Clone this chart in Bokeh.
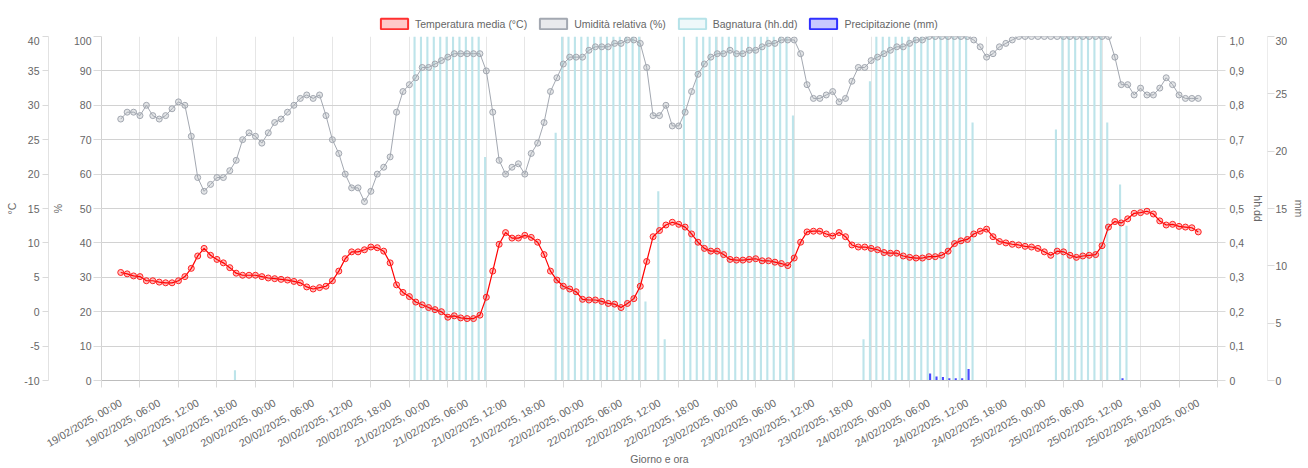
import math
from datetime import datetime, timedelta

from bokeh.plotting import figure
from bokeh.layouts import column
from bokeh.models import (Range1d, LinearAxis, FixedTicker, DatetimeTickFormatter,
                          CustomJSTickFormatter, ColumnDataSource, Legend, LegendItem)
from bokeh.transform import dodge
from bokeh.embed import file_html
from bokeh.resources import INLINE

# ---------------- data (hourly, from 19/02/2025 00:00) ----------------
inizio = datetime(2025, 2, 19, 0, 0)

temperatura = [
    5.7, 5.5, 5.2, 5.1, 4.5, 4.5, 4.3, 4.2, 4.2, 4.5, 5.1, 6.3, 8.1, 9.2, 8.2, 7.6, 7.1, 6.4, 5.6, 5.3, 5.3, 5.3, 5.1, 4.9,
    4.8, 4.7, 4.6, 4.4, 4.2, 3.6, 3.3, 3.5, 3.7, 4.5, 5.9, 7.7, 8.7, 8.7, 9.0, 9.4, 9.3, 8.8, 7.1, 3.9, 2.8, 2.2, 1.4, 1.0,
    0.6, 0.3, 0.0, -0.8, -0.6, -0.9, -1.0, -1.0, -0.5, 2.1, 5.9, 9.8, 11.5, 10.7, 10.7, 11.1, 10.8, 10.1, 8.3, 5.9, 4.6, 3.7, 3.3, 2.9,
    1.8, 1.7, 1.7, 1.5, 1.2, 1.1, 0.6, 1.2, 1.9, 3.7, 7.3, 10.9, 11.8, 12.6, 13.0, 12.7, 12.3, 11.3, 10.1, 9.2, 8.8, 8.8, 8.3, 7.6,
    7.5, 7.5, 7.6, 7.7, 7.4, 7.4, 7.2, 7.0, 6.7, 7.8, 10.1, 11.6, 11.7, 11.7, 11.3, 11.0, 11.5, 10.9, 9.7, 9.4, 9.4, 9.2, 9.0, 8.6,
    8.5, 8.5, 8.1, 7.9, 7.8, 7.8, 8.0, 8.0, 8.2, 8.8, 9.9, 10.3, 10.5, 11.3, 11.7, 12.0, 10.9, 10.2, 10.0, 9.8, 9.7, 9.5, 9.4, 9.2,
    8.7, 8.2, 8.8, 8.7, 8.2, 7.9, 8.1, 8.2, 8.3, 9.6, 12.3, 13.1, 12.9, 13.5, 14.3, 14.4, 14.6, 14.2, 13.2, 12.6, 12.7, 12.4, 12.3, 12.2,
    11.6,
]

umidita = [
    76, 78, 78, 77, 80, 77, 76, 77, 79, 81, 80, 71, 59, 55, 57, 59, 59, 61, 64, 70, 72, 71, 69, 72,
    75, 76, 78, 80, 82, 83, 82, 83, 77, 70, 66, 60, 56, 56, 52, 55, 60, 62, 65, 78, 84, 86, 88, 91,
    91, 92, 93, 94, 95, 95, 95, 95, 95, 90, 78, 64, 60, 62, 63, 60, 66, 69, 75, 84, 88, 92, 94, 94,
    94, 96, 97, 97, 97, 98, 98, 99, 99, 98, 91, 77, 77, 80, 74, 74, 78, 84, 89, 92, 94, 95, 95, 96,
    95, 95, 96, 96, 97, 98, 98, 99, 99, 99, 95, 86, 82, 82, 83, 84, 81, 82, 87, 91, 91, 93, 94, 95,
    96, 97, 97, 98, 99, 99, 100, 100, 100, 100, 100, 100, 100, 99, 97, 94, 95, 97, 98, 99, 100, 100, 100, 100,
    100, 100, 100, 100, 100, 100, 100, 100, 100, 100, 100, 94, 86, 86, 83, 85, 83, 83, 85, 88, 86, 83, 82, 82,
    82,
]

bagnatura = [
    0, 0, 0, 0, 0, 0, 0, 0, 0, 0, 0, 0, 0, 0, 0, 0, 0, 0, 0.03, 0, 0, 0, 0, 0,
    0, 0, 0, 0, 0, 0, 0, 0, 0, 0, 0, 0, 0, 0, 0, 0, 0, 0, 0, 0, 0, 0, 1, 1,
    1, 1, 1, 1, 1, 1, 1, 1, 1, 0.65, 0, 0, 0, 0, 0, 0, 0, 0, 0, 0, 0.72, 1, 1, 1,
    1, 1, 1, 1, 1, 1, 1, 1, 1, 1, 0.23, 0, 0.55, 0.12, 0, 0, 1, 0.50, 1, 1, 1, 1, 1, 1,
    1, 1, 1, 1, 1, 1, 1, 1, 1, 0.77, 0, 0, 0, 0, 0, 0, 0, 0, 0, 0, 0.12, 0.87, 1, 1,
    1, 1, 1, 1, 1, 1, 1, 1, 1, 1, 1, 1, 1, 0.75, 0, 0, 0, 0, 0, 0, 0, 0, 0, 0,
    0, 0, 0.73, 1, 1, 1, 1, 1, 1, 1, 0.75, 0, 0.57, 0.45, 0, 0, 0, 0, 0, 0, 0, 0, 0, 0,
    0,
]

precipitazione = [
    0, 0, 0, 0, 0, 0, 0, 0, 0, 0, 0, 0, 0, 0, 0, 0, 0, 0, 0, 0, 0, 0, 0, 0,
    0, 0, 0, 0, 0, 0, 0, 0, 0, 0, 0, 0, 0, 0, 0, 0, 0, 0, 0, 0, 0, 0, 0, 0,
    0, 0, 0, 0, 0, 0, 0, 0, 0, 0, 0, 0, 0, 0, 0, 0, 0, 0, 0, 0, 0, 0, 0, 0,
    0, 0, 0, 0, 0, 0, 0, 0, 0, 0, 0, 0, 0, 0, 0, 0, 0, 0, 0, 0, 0, 0, 0, 0,
    0, 0, 0, 0, 0, 0, 0, 0, 0, 0, 0, 0, 0, 0, 0, 0, 0, 0, 0, 0, 0, 0, 0, 0,
    0, 0, 0, 0, 0, 0, 0.6, 0.35, 0.3, 0.2, 0.2, 0.2, 1.0, 0, 0, 0, 0, 0, 0, 0, 0, 0, 0, 0,
    0, 0, 0, 0, 0, 0, 0, 0, 0, 0, 0, 0, 0.2, 0, 0, 0, 0, 0, 0, 0, 0, 0, 0, 0,
    0,
]

ticks_pct = list(range(0, 101, 10))
ticks_temp = list(range(-10, 41, 5))
ticks_wet = [round(0.1 * k, 1) for k in range(11)]
ticks_mm = list(range(0, 31, 5))

# ---------------- helpers ----------------
EPOCH = datetime(1970, 1, 1)
HOUR = 3600000.0


def ms(d):
    return (d - EPOCH).total_seconds() * 1000.0


ore = [inizio + timedelta(hours=i) for i in range(len(temperatura))]
label_ticks = [ms(inizio + timedelta(hours=6 * k)) for k in range(29)]
grid_ticks = [ms(inizio + timedelta(hours=6 * k - 3)) for k in range(30)]

src = ColumnDataSource(dict(t=ore, temp=temperatura, hum=umidita, wet=bagnatura, mm=precipitazione))
iw = [i for i, v in enumerate(bagnatura) if v > 0]
src_w = ColumnDataSource(dict(t=[ore[i] for i in iw], v=[bagnatura[i] for i in iw]))
ip = [i for i, v in enumerate(precipitazione) if v > 0]
src_p = ColumnDataSource(dict(t=[ore[i] for i in ip], v=[precipitazione[i] for i in ip]))

FONT = "Liberation Sans"
FS = "10.5px"
GREY = "#666666"

x_range = Range1d(inizio - timedelta(hours=3), inizio + timedelta(hours=171))

p = figure(width=1308, height=432, x_axis_type="datetime",
           x_range=x_range, y_range=Range1d(0, 100),
           output_backend="svg", toolbar_location=None,
           min_border_left=101, min_border_right=84, min_border_top=0, min_border_bottom=87)
p.extra_y_ranges = {"temp": Range1d(-10, 40), "wet": Range1d(0, 1), "mm": Range1d(0, 30)}
p.outline_line_color = None
p.background_fill_color = "white"
p.border_fill_color = "white"

# grids
p.xgrid.ticker = FixedTicker(ticks=grid_ticks)
p.xgrid.grid_line_color = "#e6e6e6"
p.ygrid.ticker = FixedTicker(ticks=ticks_pct)
p.ygrid.grid_line_color = "#d2d2d2"


def style_axis(ax):
    ax.major_label_text_font = FONT
    ax.major_label_text_font_size = FS
    ax.major_label_text_color = GREY
    ax.axis_label_text_font = FONT
    ax.axis_label_text_font_size = FS
    ax.axis_label_text_font_style = "normal"
    ax.axis_label_text_color = GREY
    ax.major_tick_in = 0
    ax.minor_tick_in = 0
    ax.minor_tick_out = 0
    ax.major_tick_line_color = "#dadada"


# x axis
xa = p.xaxis[0]
style_axis(xa)
fmt = "%d/%m/%Y, %H:%M"
xa.ticker = FixedTicker(ticks=label_ticks, minor_ticks=grid_ticks)
xa.formatter = DatetimeTickFormatter(milliseconds=fmt, seconds=fmt, minsec=fmt, minutes=fmt,
                                     hourmin=fmt, hours=fmt, days=fmt, months=fmt, years=fmt,
                                     strip_leading_zeros=False)
xa.major_tick_out = 0
xa.minor_tick_out = 7
xa.minor_tick_line_color = "#dadada"
xa.major_label_orientation = math.radians(30)
xa.major_label_standoff = 14
xa.axis_line_color = "#bdbdbd"
xa.axis_label = "Giorno e ora"
xa.axis_label_standoff = -4

# % axis (inner left)
ya = p.yaxis[0]
style_axis(ya)
ya.ticker = FixedTicker(ticks=ticks_pct)
ya.formatter = CustomJSTickFormatter(code="return tick.toFixed(0);")
ya.axis_label = "%"
ya.major_tick_out = 8
ya.major_label_standoff = 2
ya.axis_label_standoff = 7
ya.axis_line_color = "#d2d2d2"

# °C axis (outer left)
at = LinearAxis(y_range_name="temp", ticker=FixedTicker(ticks=ticks_temp), axis_label="°C",
                formatter=CustomJSTickFormatter(code="return tick.toFixed(0);"))
style_axis(at)
at.major_tick_out = 6
at.major_label_standoff = 3
at.axis_label_standoff = 3
at.axis_line_color = "#e2e2e2"
p.add_layout(at, "left")

# hh.dd axis (inner right)
aw = LinearAxis(y_range_name="wet", ticker=FixedTicker(ticks=ticks_wet), axis_label="hh.dd",
                formatter=CustomJSTickFormatter(code="return tick == 0 ? '0' : tick.toFixed(1).replace('.', ',');"))
style_axis(aw)
aw.major_tick_out = 8
aw.major_label_standoff = 4
aw.axis_label_standoff = 5
aw.axis_line_color = "#d8d8d8"
p.add_layout(aw, "right")

# mm axis (outer right)
am = LinearAxis(y_range_name="mm", ticker=FixedTicker(ticks=ticks_mm), axis_label="mm",
                formatter=CustomJSTickFormatter(code="return tick.toFixed(0);"))
style_axis(am)
am.major_tick_out = 7
am.major_label_standoff = 1
am.axis_label_standoff = 3
am.axis_line_color = "#ececec"
p.add_layout(am, "right")

# ---------------- glyphs ----------------
BAR_W = 0.33 * HOUR
p.vbar(x=dodge("t", -0.19 * HOUR, range=p.x_range), top="v", bottom=0, width=BAR_W,
       source=src_w, y_range_name="wet", fill_color="#bde4ea", line_color=None)
p.vbar(x=dodge("t", 0.19 * HOUR, range=p.x_range), top="v", bottom=0, width=BAR_W,
       source=src_p, y_range_name="mm", fill_color="#4a4aff", line_color=None)

HUM = "#a3a8b1"
p.line("t", "hum", source=src, line_color=HUM, line_width=1)
p.scatter("t", "hum", source=src, size=6, line_color=HUM, line_width=1,
          fill_color=HUM, fill_alpha=0.3)

p.line("t", "temp", source=src, y_range_name="temp", line_color="#ff0000", line_width=1.2)
p.scatter("t", "temp", source=src, y_range_name="temp", size=6, line_color="#ff2020",
          line_width=1, fill_color="#ff0000", fill_alpha=0.25)

# ---------------- legend strip (separate small plot above) ----------------
leg = figure(width=1308, height=36, output_backend="svg", toolbar_location=None,
             x_range=x_range, y_range=Range1d(500, 501),
             x_axis_location=None, y_axis_location=None, min_border=0)
leg.outline_line_color = None
leg.grid.visible = False
leg.background_fill_color = "white"
leg.border_fill_color = "white"

# swatch renderers (hidden in the strip, used only for the legend boxes)
sw_t = leg.vbar(x="t", top="temp", bottom=0, width=HOUR, source=src, visible=False,
                fill_color="#ffc9c9", line_color="#ff3030", line_width=2)
sw_h = leg.vbar(x="t", top="hum", bottom=0, width=HOUR, source=src, visible=False,
                fill_color="#e9eaed", line_color="#a3a8b1", line_width=2)
sw_w = leg.vbar(x="t", top="wet", bottom=0, width=HOUR, source=src, visible=False,
                fill_color="#eef8fa", line_color="#b5e2e8", line_width=2)
sw_p = leg.vbar(x="t", top="mm", bottom=0, width=HOUR, source=src, visible=False,
                fill_color="#c9c9ff", line_color="#3030ff", line_width=2)

legend = Legend(items=[
    LegendItem(label="Temperatura media (°C)", renderers=[sw_t]),
    LegendItem(label="Umidità relativa (%)", renderers=[sw_h]),
    LegendItem(label="Bagnatura (hh.dd)", renderers=[sw_w]),
    LegendItem(label="Precipitazione (mm)", renderers=[sw_p]),
], orientation="horizontal", location=(276, 6), click_policy="none",
    glyph_width=34, glyph_height=13, label_standoff=4, spacing=9,
    padding=0, margin=0, border_line_color=None, background_fill_alpha=0,
    label_text_font=FONT, label_text_font_size=FS, label_text_color=GREY,
    label_height=13)
leg.add_layout(legend)

layout = column(leg, p, spacing=0)
open("out.html", "w").write(file_html(layout, INLINE))
